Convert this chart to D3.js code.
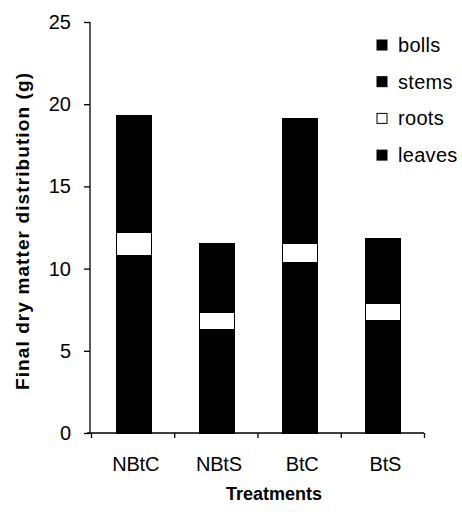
<!DOCTYPE html>
<html>
<head>
<meta charset="utf-8">
<script src="https://cdn.jsdelivr.net/npm/d3@7"></script>
<style>
  body { margin: 0; background: #fff; }
  svg { display: block; font-family: 'Liberation Sans', Arial, sans-serif; }
</style>
</head>
<body>
<svg></svg>
<script>
// treatments and dry matter (g) per plant part, bottom of stack first
const treatments = ['NBtC', 'NBtS', 'BtC', 'BtS'];
const leaves = [10.8, 6.3, 10.35, 6.85];
const roots = [1.4, 1.05, 1.15, 1.0];
const stems = [3.6, 2.3, 3.8, 2.2];
const bolls = [3.5, 1.9, 3.8, 1.8];
const yTicks = [0, 5, 10, 15, 20, 25];
const legendItems = ['bolls', 'stems', 'roots', 'leaves'];

const width = 462;
const height = 515;

const svg = d3.select('svg').attr('width', width).attr('height', height);

const parts = ['leaves', 'roots', 'stems', 'bolls'];
const colors = { leaves: '#000', roots: '#fff', stems: '#000', bolls: '#000' };

const rows = treatments.map((t, i) => ({
  treatment: t,
  leaves: leaves[i],
  roots: roots[i],
  stems: stems[i],
  bolls: bolls[i],
}));

const stacked = d3.stack().keys(parts)(rows);

const yScale = d3.scaleLinear().domain([0, 25]).range([433, 22]);

const xScale = d3
  .scaleBand()
  .domain(treatments)
  .range([92, 425])
  .paddingInner(0.58)
  .paddingOuter(0.29);

const xLabelScale = d3.scaleBand().domain(treatments).range([91, 424]);
const xTickScale = d3.scaleLinear().domain([0, 4]).range([91, 424]);

// bars
svg
  .append('g')
  .attr('shape-rendering', 'crispEdges')
  .selectAll('g')
  .data(stacked)
  .enter()
  .append('g')
  .attr('fill', (d) => colors[d.key])
  .selectAll('rect')
  .data((d) => d)
  .enter()
  .append('rect')
  .attr('x', (d) => xScale(d.data.treatment))
  .attr('width', xScale.bandwidth())
  .attr('y', (d) => yScale(d[1]))
  .attr('height', (d) => yScale(d[0]) - yScale(d[1]))
  .attr('stroke', '#000')
  .attr('stroke-width', 1);

// y axis
const yAxis = d3.axisLeft(yScale).tickValues(yTicks).tickSize(6).tickPadding(13);
const yG = svg.append('g').attr('transform', 'translate(90, 0)').call(yAxis);
yG.selectAll('text').style('font-size', '20px').attr('fill', '#000');
yG.select('.domain').attr('d', 'M0,' + yScale(25) + 'V' + yScale(0)).attr('stroke-width', 1.3);
yG.selectAll('line').attr('stroke-width', 1.3);

// x axis ticks between categories
const xTickAxis = d3.axisBottom(xTickScale).ticks(4).tickSize(5).tickFormat('');
const xG = svg.append('g').attr('transform', 'translate(0, 433)').call(xTickAxis);
xG.select('.domain').attr('d', 'M87,0H424').attr('stroke-width', 1.3);
xG.selectAll('line').attr('stroke-width', 1.3);

// category labels
const xLabelAxis = d3.axisBottom(xLabelScale).tickSize(0);
const xl = svg.append('g').attr('transform', 'translate(3, 433)').call(xLabelAxis);
xl.select('.domain').remove();
xl.selectAll('text')
  .attr('y', 24)
  .style('font-size', '20px')
  .style('letter-spacing', '-0.2px')
  .attr('fill', '#000');

// axis titles
svg
  .append('text')
  .attr('transform', 'translate(29, 231) rotate(-90)')
  .attr('text-anchor', 'middle')
  .style('font-size', '19px')
  .style('font-weight', 'bold')
  .style('letter-spacing', '1.1px')
  .text('Final dry matter distribution (g)');

svg
  .append('text')
  .attr('x', 274)
  .attr('y', 500)
  .attr('text-anchor', 'middle')
  .style('font-size', '18px')
  .style('font-weight', 'bold')
  .text('Treatments');

// legend
const legend = svg
  .selectAll('.legend')
  .data(legendItems)
  .enter()
  .append('g')
  .attr('class', 'legend')
  .attr('transform', (d, i) => 'translate(377, ' + (45 + i * 36.7) + ')');

legend
  .append('rect')
  .attr('x', 0)
  .attr('y', -5)
  .attr('width', 10)
  .attr('height', 10)
  .attr('fill', (d) => colors[d])
  .attr('stroke', '#000')
  .attr('stroke-width', 1);

legend
  .append('text')
  .attr('x', 21)
  .attr('y', 0)
  .attr('dy', '0.35em')
  .style('font-size', '20px')
  .style('letter-spacing', '0.3px')
  .text((d) => d);
</script>
</body>
</html>
